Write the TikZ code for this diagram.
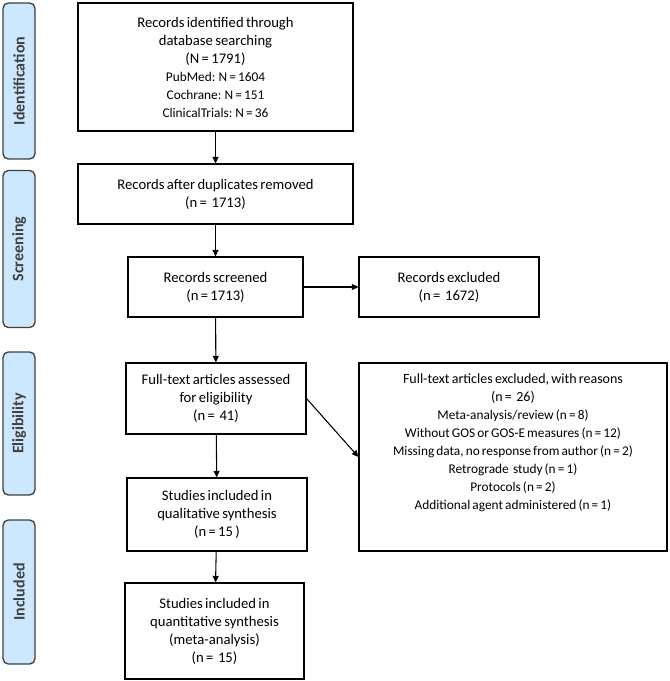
\documentclass[tikz,border=0pt]{standalone}
\usepackage{fontspec}
\setmainfont{Carlito}[WordSpace=0.7]
\usetikzlibrary{arrows.meta}
\definecolor{phase}{RGB}{204,232,255}
\definecolor{phaseline}{RGB}{64,64,64}
\newcommand*{\subline}{\fontsize{10}{12}\selectfont}
\tikzset{%
  record/.style={draw, rectangle, line width=0.8pt, align=center, inner sep=2pt,
    font=\fontsize{11}{13.5}\selectfont},% flow box
  phase/.style={draw=phaseline, fill=phase, rounded corners=4pt, line width=1pt,
    rotate=90, minimum height=24pt, inner sep=0pt, text=phaseline,
    font=\fontsize{12}{14}\selectfont\bfseries},% stage bar on the left
  flow/.style={line width=0.8pt, -{Triangle[length=5pt, width=4.5pt]}}% connector
}

\begin{document}
\begin{tikzpicture}[x=0.75pt, y=-0.75pt]
\useasboundingbox (0,0) rectangle (669,681);

% stage bars
\node[phase, minimum width=117pt] (ident) at (19,81) {Identification};
\node[phase, minimum width=117.75pt] (screen) at (19,249) {Screening};
\node[phase, minimum width=107.25pt] (elig) at (19,423.5) {Eligibility};
\node[phase, minimum width=108pt] (incl) at (19,592) {Included};

% boxes
\node[record, minimum width=206.25pt, minimum height=96pt] (found) at (215.5,67)
  {Records identified through\\ database searching\\ (N = 1791)\\
   {\subline PubMed: N = 1604}\\ {\subline Cochrane: N = 151}\\
   {\subline ClinicalTrials: N = 36}};
\node[record, minimum width=206.25pt, minimum height=45pt] (dedup) at (215.5,194)
  {Records after duplicates removed\\ (n =~ 1713)};
\node[record, minimum width=131.25pt, minimum height=45pt] (screened) at (215.5,287)
  {Records screened\\ (n = 1713)};
\node[record, minimum width=135pt, minimum height=45pt] (excluded) at (449,287)
  {Records excluded\\ (n =~ 1672)};
\node[record, minimum width=135pt, minimum height=53.25pt] (fulltext) at (216,398.5)
  {Full-text articles assessed\\ for eligibility\\ (n =~ 41)};
\node[record, minimum width=231pt, minimum height=141pt] (reasons) at (513,457) {};
\node[align=center, anchor=north, inner sep=0pt, font=\fontsize{10.5}{13.5}\selectfont]
  (reasonstext) at ([yshift=-8.5pt]reasons.north)
  {Full-text articles excluded, with reasons\\ (n =~ 26)\\
   {\subline Meta-analysis/review (n = 8)}\\
   {\subline Without GOS or GOS-E measures (n = 12)}\\
   {\subline Missing data, no response from author (n = 2)}\\
   {\subline Retrograde~ study (n = 1)}\\
   {\subline Protocols (n = 2)}\\
   {\subline Additional agent administered (n = 1)}};
\node[record, minimum width=135pt, minimum height=54.75pt] (qual) at (217,514.5)
  {Studies included in\\ qualitative synthesis\\ (n = 15 )};
\node[record, minimum width=134.25pt, minimum height=72pt] (quant) at (214.5,631)
  {Studies included in\\ quantitative synthesis\\ (meta-analysis)\\ (n =~ 15)};

% connectors
\draw[flow] (found) -- (dedup);
\draw[flow] (dedup) -- (screened);
\draw[flow] (screened) -- (excluded);
\draw[flow] (screened) -- (fulltext);
\draw[flow] (fulltext.east) -- (reasons.west);
\draw[flow] (fulltext) -- (qual);
\draw[flow] (qual) -- (quant);

\end{tikzpicture}
\end{document}
